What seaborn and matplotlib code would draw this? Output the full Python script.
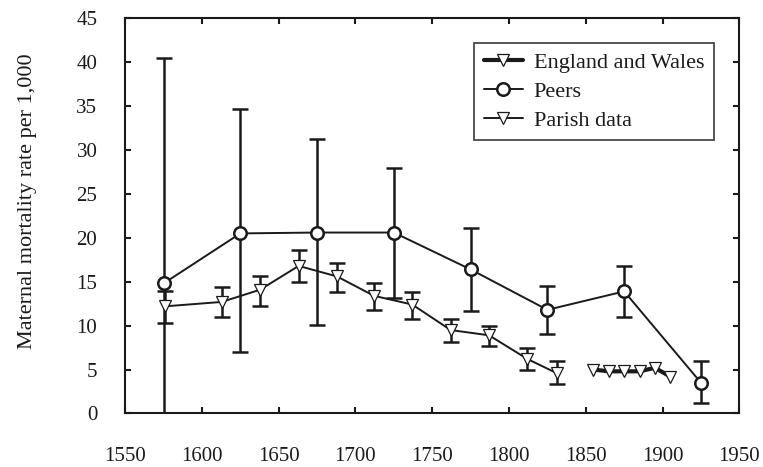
import numpy as np
import pandas as pd
import matplotlib
matplotlib.use("Agg")
import matplotlib.pyplot as plt
import seaborn as sns
from matplotlib.legend_handler import HandlerLine2D

# Peers: 50-year periods
peers_year = [1575, 1625, 1675, 1725, 1775, 1825, 1875, 1925]
peers_rate = [14.8, 20.5, 20.6, 20.6, 16.4, 11.8, 13.9, 3.5]
peers_low = [0.0, 7.0, 10.1, 13.1, 11.7, 9.0, 11.0, 1.2]
peers_high = [40.5, 34.7, 31.3, 28.0, 21.1, 14.5, 16.8, 6.0]

# Parish reconstitution data: 25-year periods
parish_year = [1576, 1613, 1638, 1663, 1688, 1712, 1737, 1762, 1787, 1812, 1831]
parish_rate = [12.2, 12.7, 14.1, 16.8, 15.6, 13.4, 12.4, 9.5, 8.9, 6.2, 4.6]
parish_low = [10.3, 11.0, 12.2, 15.0, 13.8, 11.75, 10.7, 8.1, 7.7, 5.0, 3.4]
parish_high = [14.0, 14.4, 15.7, 18.6, 17.1, 14.9, 13.8, 10.7, 10.0, 7.4, 6.0]

# England and Wales registration data
ew_year = [1855, 1865, 1875, 1885, 1895, 1905]
ew_rate = [5.0, 4.8, 4.8, 4.8, 5.2, 4.2]

x_ticks = [1550, 1600, 1650, 1700, 1750, 1800, 1850, 1900, 1950]
y_ticks = [0, 5, 10, 15, 20, 25, 30, 35, 40, 45]

sns.set_theme(style="ticks")
plt.rcParams["font.family"] = ["Liberation Serif", "DejaVu Serif"]

ink = "#1a1a1a"

fig = plt.figure(figsize=(7.63, 4.67), dpi=100)
ax = fig.add_axes([0.164, 0.1146, 0.805, 0.8464])

peers = pd.DataFrame({"year": peers_year, "rate": peers_rate})
parish = pd.DataFrame({"year": parish_year, "rate": parish_rate})
ew = pd.DataFrame({"year": ew_year, "rate": ew_rate})

# error bars
ax.errorbar(peers_year, peers_rate,
            yerr=[np.subtract(peers_rate, peers_low), np.subtract(peers_high, peers_rate)],
            fmt="none", ecolor=ink, elinewidth=1.8, capsize=6, capthick=1.8, zorder=2)
ax.errorbar(parish_year, parish_rate,
            yerr=[np.subtract(parish_rate, parish_low), np.subtract(parish_high, parish_rate)],
            fmt="none", ecolor=ink, elinewidth=1.8, capsize=6, capthick=1.8, zorder=2)

sns.lineplot(data=ew, x="year", y="rate", ax=ax, color=ink, linewidth=3,
             marker="v", markersize=8, markerfacecolor="white", markeredgecolor=ink,
             markeredgewidth=0.9, zorder=3, label="England and Wales")
sns.lineplot(data=peers, x="year", y="rate", ax=ax, color=ink, linewidth=1.4,
             marker="o", markersize=9, markerfacecolor="white", markeredgecolor=ink,
             markeredgewidth=1.8, zorder=4, label="Peers")
sns.lineplot(data=parish, x="year", y="rate", ax=ax, color=ink, linewidth=1.4,
             marker="v", markersize=8, markerfacecolor="white", markeredgecolor=ink,
             markeredgewidth=0.9, zorder=4, label="Parish data")

ax.set_xlim(1550, 1950)
ax.set_ylim(0, 45)
ax.set_xticks(x_ticks)
ax.set_yticks(y_ticks)
ax.set_xlabel("")
ax.set_ylabel("Maternal mortality rate per 1,000", fontsize=16, color=ink)
ax.yaxis.set_label_coords(-0.143, 0.538)

for s in ax.spines.values():
    s.set_visible(True)
    s.set_linewidth(1.5)
    s.set_color(ink)
ax.tick_params(axis="both", direction="in", length=4, width=1.5, colors=ink,
               labelsize=15, top=True, right=True, labelcolor=ink)
ax.tick_params(axis="x", pad=24)
ax.tick_params(axis="y", pad=20)


class LeftMarkerHandler(HandlerLine2D):
    def get_xdata(self, legend, xdescent, ydescent, width, height, fontsize):
        xdata = [-xdescent, -xdescent + width]
        return xdata, [-xdescent + 0.15 * width]


handles, labels = ax.get_legend_handles_labels()
leg = ax.legend(handles, labels, loc="upper right", bbox_to_anchor=(0.958, 0.9375),
                borderaxespad=0, fontsize=16, frameon=True, fancybox=False,
                edgecolor=ink, handlelength=1.75, handletextpad=0.5,
                labelspacing=0.38, borderpad=0.42,
                handler_map={h: LeftMarkerHandler() for h in handles})
leg.get_frame().set_linewidth(1.3)
for t in leg.get_texts():
    t.set_color(ink)

fig.savefig("out.png", dpi=100)
